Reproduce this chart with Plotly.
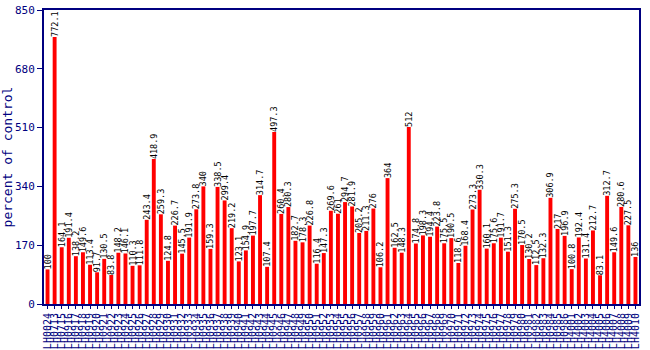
import plotly.graph_objects as go

# Sample identifiers along the x axis
labels = (["LH0024", "LH0713", "LH0715"]
          + ["LH%04d" % n for n in range(916, 987)]
          + ["LH%04d" % n for n in range(4001, 4011)])

# Percent-of-control value for each sample
values = [100, 772.1, 164.1, 191.4, 138.2, 149.6, 113.4, 91.7, 130.5, 83.8,
          148.2, 146.1, 110.3, 111.8, 243.4, 418.9, 259.3, 124.8, 226.7, 145.5,
          191.9, 273.8, 340, 159.3, 338.5, 299.4, 219.2, 123.1, 154.9, 197.7,
          314.7, 107.4, 497.3, 260.4, 280.3, 182.7, 178.3, 226.8, 116.4, 147.3,
          269.6, 261, 294.7, 281.9, 205.2, 211.3, 276, 106.2, 364, 162.5,
          148.3, 512, 174.8, 198.3, 194.4, 223.8, 175.5, 190.5, 118.6, 168.4,
          273.3, 330.3, 160.1, 175.6, 191.7, 151.3, 275.3, 170.5, 130.2, 112.5,
          132.3, 306.9, 217, 196.9, 100.8, 192.4, 131.4, 212.7, 83.1, 312.7,
          149.6, 280.6, 227.5, 136]

y_ticks = [0, 170, 340, 510, 680, 850]

navy = "#000080"
mono = "DejaVu Sans Mono, Liberation Mono, monospace"

fig = go.Figure(go.Bar(
    x=labels, y=values,
    marker=dict(color="#ff0000", line=dict(width=0)),
    text=[("%g" % v) for v in values],
    textposition="outside",
    textangle=-90,
    constraintext="none",
    cliponaxis=False,
    textfont=dict(family=mono, size=8.5, color="black"),
))

fig.update_layout(
    width=650, height=350,
    margin=dict(l=44, r=11, t=10, b=46),
    paper_bgcolor="white", plot_bgcolor="white",
    bargap=0.45,
    showlegend=False,
    font=dict(family=mono, color=navy),
)

fig.update_xaxes(
    type="category",
    tickmode="array", tickvals=labels, ticktext=labels,
    showline=True, linecolor=navy, linewidth=2, mirror=True,
    ticks="outside", ticklen=3, tickcolor=navy,
    tickangle=-90, tickfont=dict(family=mono, size=10, color=navy),
    showgrid=False, automargin=False,
)

fig.update_yaxes(
    range=[0, 850], tickvals=y_ticks,
    showline=True, linecolor=navy, linewidth=2, mirror=True,
    ticks="outside", ticklen=5, tickcolor=navy,
    tickfont=dict(family=mono, size=11, color=navy),
    showgrid=False, zeroline=False, automargin=False,
    title=dict(text="percent of control", font=dict(family=mono, size=13, color=navy), standoff=4),
)

fig.write_html("out.html")
